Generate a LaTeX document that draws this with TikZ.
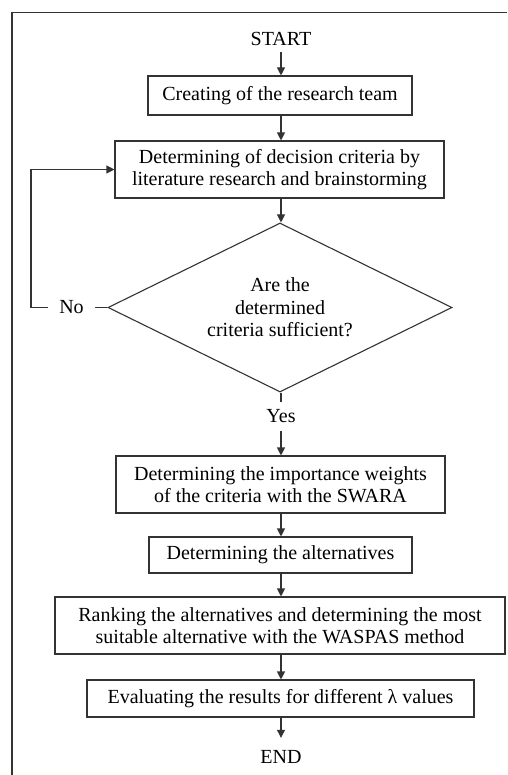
\documentclass[tikz,border=0pt]{standalone}
\usepackage{fontspec}
\setmainfont{Liberation Serif}
\usetikzlibrary{arrows.meta,shapes.geometric}
\definecolor{ln}{HTML}{333333}
\begin{document}
\begin{tikzpicture}[x=1pt,y=-1pt,
  every node/.style={font=\fontsize{20}{22.5}\selectfont, text=black},
  stepbox/.style={draw=ln, line width=1.1pt, align=center, inner sep=0pt},
  lbl/.style={inner sep=0pt},
  arr/.style={draw=ln, line width=1.1pt, -{Triangle[length=8pt,width=8pt]}},
  ln/.style={draw=ln, line width=1.1pt}]
\useasboundingbox (0,0) rectangle (507,775);
% outer frame (cropped)
\draw[draw=ln, line width=1.3pt] (12,775) -- (12,12.5) -- (507,12.5);

\node[lbl, minimum height=26pt] (start) at (281,39) {START};
\node[stepbox, minimum width=264pt, minimum height=39pt] (b1) at (280,95.5) {Creating of the research team};
\node[stepbox, minimum width=329pt, minimum height=57pt] (b2) at (279.5,169.5) {Determining of decision criteria by\\literature research and brainstorming};
\node[draw=ln, line width=1.1pt, diamond, aspect=2.04, minimum width=344pt, minimum height=169pt, inner sep=0pt, align=center] (d) at (280,307.5) {Are the\\determined\\criteria sufficient?};
\node[lbl, minimum width=47pt] (no) at (71.5,307.5) {No};
\coordinate (lp) at (31,0);
\node[lbl, minimum height=29pt] (yes) at (281,416.5) {Yes};
\node[stepbox, minimum width=329pt, minimum height=57pt] (b3) at (280.5,484.5) {Determining the importance weights\\of the criteria with the SWARA};
\node[stepbox, minimum width=263pt, minimum height=36pt] (b4) at (280.5,555) {Determining the alternatives};
\node[stepbox, minimum width=450pt, minimum height=57pt] (b5) at (280,625.5) {Ranking the alternatives and determining the most\\suitable alternative with the WASPAS method};
\node[stepbox, minimum width=387pt, minimum height=37pt] (b6) at (280.5,698.5) {Evaluating the results for different λ values};
\node[lbl, minimum height=38pt] (end) at (281,757) {END};

\draw[arr] (start.south) -- (start.south |- b1.north);
\draw[arr] (b1.south -| start.south) -- (start.south |- b2.north);
\draw[arr] (b2.south -| start.south) -- (start.south |- d.north);
\draw[ln] (d.west) -- (no.east);
\draw[arr] (no.west) -- (no.west -| lp) |- (b2.west);
\draw[ln] (d.south -| yes.north) -- (yes.north);
\draw[arr] (yes.south) -- (yes.south |- b3.north);
\draw[arr] (b3.south -| yes.south) -- (yes.south |- b4.north);
\draw[arr] (b4.south -| yes.south) -- (yes.south |- b5.north);
\draw[arr] (b5.south -| yes.south) -- (yes.south |- b6.north);
\draw[arr] (b6.south -| end.north) -- (end.north);
\end{tikzpicture}
\end{document}
